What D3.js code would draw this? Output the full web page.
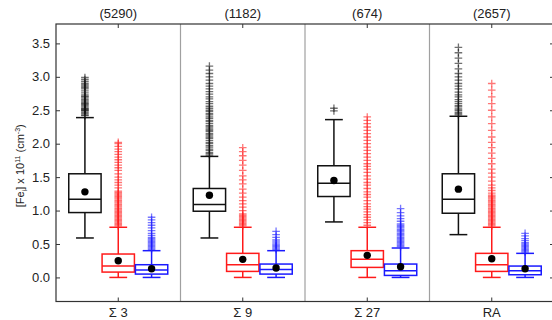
<!DOCTYPE html>
<html>
<head>
<meta charset="utf-8">
<script src="https://cdn.jsdelivr.net/npm/d3@7"></script>
<style>
  body { margin: 0; background: #fff; }
  svg { display: block; font-family: "Liberation Sans", Arial, sans-serif; }
</style>
</head>
<body>
<div id="chart"></div>
<script>
// boundary types and the number of boundaries in each
const groups = ["Σ 3", "Σ 9", "Σ 27", "RA"];
const counts = ["(5290)", "(1182)", "(674)", "(2657)"];
const series = ["k", "r", "b"];
const yTicks = [0, 0.5, 1, 1.5, 2, 2.5, 3, 3.5];

// per group: [lower whisker, q1, median, q3, upper whisker, mean]
const blackStats = [
  [0.59, 0.97, 1.17, 1.55, 2.39, 1.28],
  [0.59, 0.99, 1.09, 1.33, 1.81, 1.23],
  [0.83, 1.21, 1.41, 1.67, 2.36, 1.45],
  [0.64, 0.96, 1.17, 1.55, 2.41, 1.32]
];
const redStats = [
  [0.0, 0.08, 0.17, 0.35, 0.75, 0.25],
  [0.0, 0.09, 0.19, 0.36, 0.75, 0.27],
  [0.0, 0.15, 0.27, 0.40, 0.75, 0.33],
  [0.0, 0.09, 0.19, 0.36, 0.75, 0.28]
];
const blueStats = [
  [0.0, 0.05, 0.11, 0.19, 0.40, 0.13],
  [0.0, 0.05, 0.12, 0.20, 0.40, 0.14],
  [0.0, 0.03, 0.10, 0.20, 0.44, 0.16],
  [0.0, 0.04, 0.10, 0.17, 0.36, 0.13]
];

// outliers
const blackOut = [
  [2.42, 2.43, 2.45, 2.47, 2.49, 2.5, 2.51, 2.52, 2.53, 2.55, 2.57, 2.59, 2.6, 2.62, 2.64, 2.66, 2.68, 2.7, 2.71, 2.73, 2.76, 2.79, 2.82, 2.84, 2.86, 2.88, 2.9, 2.93, 2.96, 2.99],
  [1.83, 1.85, 1.87, 1.9, 1.92, 1.95, 1.97, 2.0, 2.02, 2.05, 2.08, 2.1, 2.13, 2.15, 2.18, 2.2, 2.22, 2.25, 2.27, 2.3, 2.33, 2.35, 2.38, 2.4, 2.43, 2.45, 2.48, 2.5, 2.53, 2.56, 2.6, 2.63, 2.67, 2.7, 2.74, 2.78, 2.82, 2.86, 2.9, 2.95, 3.0, 3.05, 3.1, 3.16],
  [2.49, 2.53],
  [2.43, 2.45, 2.47, 2.5, 2.52, 2.55, 2.57, 2.6, 2.63, 2.66, 2.7, 2.73, 2.77, 2.82, 2.86, 2.9, 2.95, 3.0, 3.05, 3.12, 3.2, 3.28, 3.36, 3.44]
];
const redOut = [
  [0.77, 0.79, 0.81, 0.83, 0.85, 0.87, 0.89, 0.91, 0.93, 0.95, 0.97, 0.99, 1.01, 1.03, 1.05, 1.07, 1.09, 1.11, 1.13, 1.15, 1.17, 1.19, 1.21, 1.23, 1.25, 1.27, 1.29, 1.34, 1.38, 1.42, 1.46, 1.5, 1.55, 1.6, 1.64, 1.68, 1.72, 1.76, 1.8, 1.84, 1.88, 1.92, 1.96, 2.0, 2.02],
  [0.77, 0.79, 0.81, 0.83, 0.85, 0.87, 0.89, 0.91, 0.93, 0.95, 1.0, 1.05, 1.1, 1.15, 1.2, 1.26, 1.32, 1.4, 1.46, 1.52, 1.6, 1.68, 1.75, 1.82, 1.88, 1.94],
  [0.78, 0.82, 0.86, 0.9, 0.94, 0.98, 1.02, 1.06, 1.1, 1.15, 1.2, 1.24, 1.28, 1.33, 1.38, 1.42, 1.47, 1.52, 1.57, 1.62, 1.66, 1.7, 1.75, 1.8, 1.85, 1.9, 1.95, 2.0, 2.05, 2.1, 2.15, 2.2, 2.25, 2.3, 2.35, 2.4],
  [0.77, 0.79, 0.81, 0.83, 0.85, 0.87, 0.89, 0.91, 0.93, 0.95, 0.97, 0.99, 1.01, 1.03, 1.05, 1.07, 1.09, 1.11, 1.13, 1.15, 1.17, 1.19, 1.21, 1.23, 1.26, 1.3, 1.34, 1.38, 1.44, 1.5, 1.56, 1.62, 1.7, 1.78, 1.86, 1.94, 2.02, 2.1, 2.2, 2.3, 2.4, 2.5, 2.6, 2.7, 2.8, 2.9]
];
const blueOut = [
  [0.42, 0.44, 0.46, 0.48, 0.5, 0.52, 0.54, 0.56, 0.58, 0.6, 0.63, 0.66, 0.7, 0.74, 0.78, 0.82, 0.86, 0.9],
  [0.42, 0.44, 0.46, 0.48, 0.5, 0.53, 0.56, 0.6, 0.64, 0.69],
  [0.46, 0.48, 0.5, 0.52, 0.54, 0.56, 0.58, 0.6, 0.62, 0.64, 0.66, 0.68, 0.7, 0.72, 0.74, 0.76, 0.78, 0.8, 0.84, 0.88, 0.92, 0.97, 1.03],
  [0.38, 0.4, 0.42, 0.44, 0.46, 0.48, 0.5, 0.52, 0.55, 0.58, 0.62, 0.66]
];

const stats = { k: blackStats, r: redStats, b: blueStats };
const outs = { k: blackOut, r: redOut, b: blueOut };
const colors = { k: "#111", r: "#ff1a1a", b: "#1a1aff" };

const width = 552, height = 320;
const margin = { top: 24, right: -2, bottom: 18.5, left: 56 };

const svg = d3.select("#chart").append("svg")
  .attr("width", width)
  .attr("height", height);

const x = d3.scaleBand()
  .domain(groups)
  .range([margin.left, width - margin.right]);

const sub = d3.scaleBand()
  .domain(series)
  .range([-50, 50]);

const y = d3.scaleLinear()
  .domain([-0.36, 3.79])
  .range([height - margin.bottom, margin.top]);

const x0 = margin.left, x1 = width - margin.right;
const y0 = margin.top, y1 = height - margin.bottom;

// group dividers
svg.append("g")
  .attr("stroke", "#a0a0a0")
  .attr("stroke-width", 1.2)
  .selectAll("line")
  .data(groups.slice(1))
  .join("line")
  .attr("x1", d => x(d))
  .attr("x2", d => x(d))
  .attr("y1", y0)
  .attr("y2", y1);

// boxes
const bw = sub.bandwidth() - 1;
const cap = bw * 0.55;

series.forEach(s => {
  const g = svg.append("g")
    .attr("stroke", colors[s])
    .attr("fill", "none")
    .attr("stroke-width", 1.5);

  const cell = g.selectAll("g.box")
    .data(stats[s].map((v, i) => ({ grp: groups[i], v, out: outs[s][i] })))
    .join("g")
    .attr("class", "box")
    .attr("transform", d => `translate(${x(d.grp) + x.bandwidth() / 2 + sub(s) + sub.bandwidth() / 2},0)`);

  // whiskers
  cell.append("line")
    .attr("x1", 0).attr("x2", 0)
    .attr("y1", d => y(d.v[3])).attr("y2", d => y(d.v[4]));
  cell.append("line")
    .attr("x1", 0).attr("x2", 0)
    .attr("y1", d => y(d.v[1])).attr("y2", d => y(d.v[0]));
  cell.append("line")
    .attr("x1", -cap / 2).attr("x2", cap / 2)
    .attr("y1", d => y(d.v[4])).attr("y2", d => y(d.v[4]));
  cell.append("line")
    .attr("x1", -cap / 2).attr("x2", cap / 2)
    .attr("y1", d => y(d.v[0])).attr("y2", d => y(d.v[0]));

  cell.append("rect")
    .attr("x", -bw / 2)
    .attr("width", bw)
    .attr("y", d => y(d.v[3]))
    .attr("height", d => y(d.v[1]) - y(d.v[3]))
    .attr("fill", "#fff");

  cell.append("line")
    .attr("x1", -bw / 2).attr("x2", bw / 2)
    .attr("y1", d => y(d.v[2])).attr("y2", d => y(d.v[2]));

  // outliers as plus marks
  cell.selectAll("path.out")
    .data(d => d.out)
    .join("path")
    .attr("class", "out")
    .attr("d", d => `M-3.8,${y(d)}h7.6M0,${y(d) - 3.8}v7.6`)
    .attr("stroke-width", 1.3)
    .attr("stroke-opacity", 0.6);

  // mean
  cell.append("circle")
    .attr("cy", d => y(d.v[5]))
    .attr("r", 3.7)
    .attr("fill", "#000")
    .attr("stroke", "none");
});

// frame
svg.append("rect")
  .attr("x", x0).attr("y", y0)
  .attr("width", x1 - x0).attr("height", y1 - y0)
  .attr("fill", "none")
  .attr("stroke", "#333")
  .attr("stroke-width", 1.2);

// axes, ticks inside the frame
const fmt = d3.format(".1f");
const axLeft = svg.append("g")
  .attr("transform", `translate(${x0},0)`)
  .call(d3.axisLeft(y).tickValues(yTicks).tickFormat(fmt).tickSize(-4).tickSizeOuter(0).tickPadding(6));
const axRight = svg.append("g")
  .attr("transform", `translate(${x1},0)`)
  .call(d3.axisRight(y).tickValues(yTicks).tickFormat("").tickSize(-4).tickSizeOuter(0));
const axBottom = svg.append("g")
  .attr("transform", `translate(0,${y1})`)
  .call(d3.axisBottom(x).tickSize(-4).tickSizeOuter(0).tickPadding(6));
const axTop = svg.append("g")
  .attr("transform", `translate(0,${y0})`)
  .call(d3.axisTop(x).tickFormat((d, i) => counts[i]).tickSize(-4).tickSizeOuter(0).tickPadding(6));

[axLeft, axRight, axBottom, axTop].forEach(a => {
  a.select(".domain").remove();
  a.selectAll(".tick line").attr("stroke", "#333");
  a.selectAll("text")
    .attr("font-size", 13)
    .attr("font-family", "'Liberation Sans', Arial, sans-serif")
    .attr("fill", "#222");
});

// y label
const lab = svg.append("text")
  .attr("transform", `translate(24,${(y0 + y1) / 2 + 3}) rotate(-90)`)
  .attr("text-anchor", "middle")
  .attr("font-size", 11)
  .attr("fill", "#222");
lab.append("tspan").text("[Fe");
lab.append("tspan").attr("font-size", 7).attr("dy", 3).text("i");
lab.append("tspan").attr("dy", -3).text("] x 10");
lab.append("tspan").attr("font-size", 7).attr("dy", -4).text("11");
lab.append("tspan").attr("dy", 4).text(" (cm");
lab.append("tspan").attr("font-size", 7).attr("dy", -4).text("-3");
lab.append("tspan").attr("dy", 4).text(")");
</script>
</body>
</html>
